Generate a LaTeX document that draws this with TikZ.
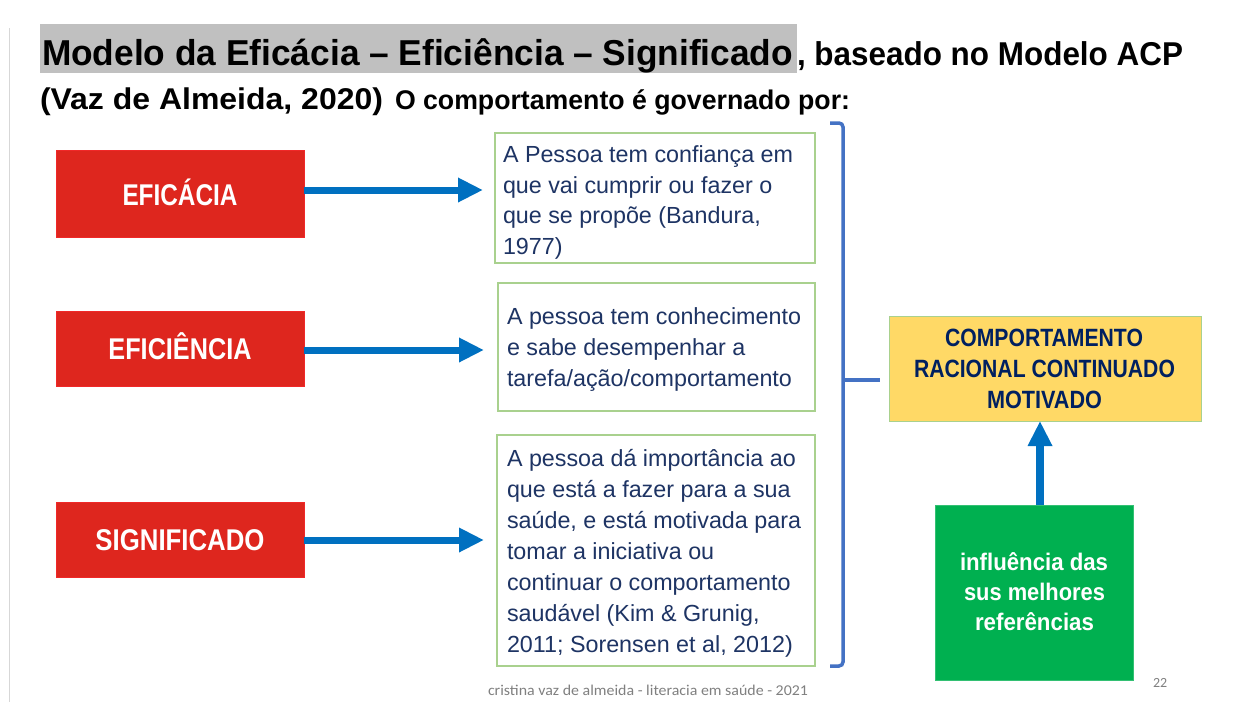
\documentclass[tikz,border=0pt]{standalone}
\usepackage{fontspec}
\setmainfont{Liberation Sans}
\newfontfamily\calib{Carlito}
\usetikzlibrary{arrows.meta}
\definecolor{redfill}{RGB}{222,38,30}
\definecolor{redline}{RGB}{240,40,40}
\definecolor{navytxt}{RGB}{30,52,100}
\definecolor{navybold}{RGB}{0,32,96}
\definecolor{boxgreen}{RGB}{169,209,142}
\definecolor{yellowfill}{RGB}{255,217,102}
\definecolor{greenfill}{RGB}{0,176,80}
\definecolor{arrowblue}{RGB}{0,112,192}
\definecolor{braceblue}{RGB}{68,114,196}
\definecolor{hlgray}{RGB}{192,192,192}
\definecolor{footgray}{RGB}{128,128,128}
\definecolor{edgegray}{RGB}{215,215,215}
\newcommand\fw[2]{\resizebox{#1pt}{\height}{#2}}
\tikzset{
  redbox/.style={fill=redfill, draw=redline, line width=0.8pt, inner sep=0pt, outer sep=0pt, minimum width=248pt},
  textbox/.style={draw=boxgreen, line width=1.3pt, inner sep=0pt, outer sep=0pt},
  lbl/.style={inner sep=0pt, outer sep=0pt},
  barrow/.style={draw=arrowblue, line width=7pt, -{Triangle[length=25pt,width=23pt]}},
  bracestyle/.style={draw=braceblue, line width=3.5pt, rounded corners=4pt},
  redtxt/.style={lbl, anchor=base, text=white, font=\fontsize{30}{34}\selectfont\bfseries},
  ytxt/.style={lbl, anchor=base, text=navybold, font=\fontsize{25}{30}\selectfont\bfseries},
  gtxt/.style={lbl, anchor=base, text=white, font=\fontsize{24}{29}\selectfont\bfseries},
  bodytxt/.style={lbl, anchor=base west, text=navytxt}
}
\begin{document}
\begin{tikzpicture}[x=1pt,y=-1pt]
\useasboundingbox (0,0) rectangle (1257,702);
\fill[white] (0,0) rectangle (1257,702);
% faint slide edge
\draw[edgegray, line width=1.5pt] (9.5,28) -- (9.5,702);
% title
\fill[hlgray] (40,24) rectangle (797,73);
\node[lbl, anchor=base west] (title) at (42,65) {\fw{751}{\fontsize{36}{40}\selectfont\bfseries Modelo da Eficácia – Eficiência – Significado}};
\node[lbl, anchor=base west] (title2) at (797,65) {\fw{386}{\fontsize{33}{38}\selectfont\bfseries , baseado no Modelo ACP}};
\node[lbl, anchor=base west] (sub1) at (40,109.5) {\fw{343}{\fontsize{30}{36}\selectfont\bfseries (Vaz de Almeida, 2020)}};
\node[lbl, anchor=base west] (sub2) at (395,109) {\fw{455}{\fontsize{27}{32}\selectfont\bfseries O comportamento é governado por:}};
% red boxes
\node[redbox, minimum height=87pt] (r1) at (180,193.5) {};
\node[redtxt] (r1t) at (180,205) {\fw{115}{EFICÁCIA}};
\node[redbox, minimum height=75pt] (r2) at (180,348.5) {};
\node[redtxt] (r2t) at (180,359) {\fw{143}{EFICIÊNCIA}};
\node[redbox, minimum height=75pt] (r3) at (180,539.5) {};
\node[redtxt] (r3t) at (180,550.5) {\fw{169}{SIGNIFICADO}};
% text boxes
\node[textbox, minimum width=320pt, minimum height=130pt] (b1) at (655,198) {};
\node[bodytxt] (b1t) at (503,162.5) {\parbox[t]{310pt}{\fontsize{23.3}{30.5}\selectfont\raggedright A Pessoa tem confiança em\\que vai cumprir ou fazer o\\que se propõe (Bandura,\\1977)}};
\node[textbox, minimum width=317pt, minimum height=128pt] (b2) at (656.5,347) {};
\node[bodytxt] (b2t) at (507,324) {\parbox[t]{305pt}{\fontsize{23.3}{31}\selectfont\raggedright A pessoa tem conhecimento\\e sabe desempenhar a\\tarefa/ação/comportamento}};
\node[textbox, minimum width=318pt, minimum height=231pt] (b3) at (656,550.5) {};
\node[bodytxt] (b3t) at (507,466.5) {\parbox[t]{305pt}{\fontsize{23.3}{31}\selectfont\raggedright A pessoa dá importância ao\\que está a fazer para a sua\\saúde, e está motivada para\\tomar a iniciativa ou\\continuar o comportamento\\saudável (Kim \& Grunig,\\2011; Sorensen et al, 2012)}};
% arrows red -> text
\draw[barrow, shorten >=12pt] ([yshift=3.5pt]r1.east) -- ([yshift=3.5pt]r1.east -| b1.west);
\draw[barrow, shorten >=14pt] ([yshift=-1.5pt]r2.east) -- ([yshift=-1.5pt]r2.east -| b2.west);
\draw[barrow, shorten >=13pt] ([yshift=-0.5pt]r3.east) -- ([yshift=-0.5pt]r3.east -| b3.west);
% yellow box
\node[fill=yellowfill, draw=boxgreen, line width=1pt, inner sep=0pt, outer sep=0pt, minimum width=312pt, minimum height=105pt] (y) at (1045,368.5) {};
\node[ytxt] (y1) at (1044,346) {\fw{198}{COMPORTAMENTO}};
\node[ytxt] (y2) at (1044.5,377) {\fw{261}{RACIONAL CONTINUADO}};
\node[ytxt] (y3) at (1044.5,408) {\fw{115}{MOTIVADO}};
% brace
\coordinate (bt) at (830,123);
\coordinate (bb) at (830,666);
\coordinate (bm) at (843,380);
\draw[bracestyle] (bt) -- (843,123) -- (843,666) -- (bb);
\draw[bracestyle, rounded corners=0pt, shorten >=9pt] (bm) -- (bm -| y.west);
% green box
\node[fill=greenfill, draw=greenfill!80!white, line width=0.8pt, inner sep=0pt, outer sep=0pt, minimum width=198pt, minimum height=175pt] (g) at (1034,592.5) {};
\node[gtxt] (g1) at (1034,570) {\fw{148}{influência das}};
\node[gtxt] (g2) at (1034.5,600) {\fw{141}{sus melhores}};
\node[gtxt] (g3) at (1034.5,630) {\fw{119}{referências}};
\draw[draw=arrowblue, line width=8pt, -{Triangle[length=25pt,width=23pt]}] ([xshift=6pt]g.north) -- ([xshift=6pt]g.north |- y.south);
% footer
\node[lbl, anchor=base, text=footgray] (foot) at (648,695) {\fw{320}{\calib\fontsize{15}{18}\selectfont cristina vaz de almeida - literacia em saúde - 2021}};
\node[lbl, anchor=base west, text=footgray] (pg) at (1153,687) {\calib\fontsize{14}{16}\selectfont 22};
\end{tikzpicture}
\end{document}
